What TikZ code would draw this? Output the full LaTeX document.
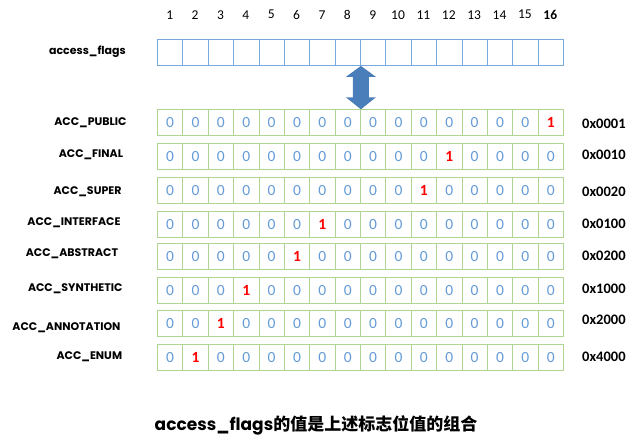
\documentclass[tikz,border=0pt]{standalone}
\usepackage{fontspec}
\setmainfont{Carlito}
\newfontfamily\comic{Poppins}
\newfontfamily\cjk{Noto Sans CJK SC}
\usetikzlibrary{calc}
\definecolor{bluebox}{RGB}{120,168,220}
\definecolor{greenbox}{RGB}{176,212,146}
\definecolor{zeroblue}{RGB}{100,155,215}
\definecolor{arrowblue}{RGB}{74,126,187}
\begin{document}
\begin{tikzpicture}[x=1pt,y=-1pt,
  cellb/.style={draw=bluebox,line width=0.9pt,minimum width=25.375pt,minimum height=26pt,inner sep=0pt,anchor=north west},
  cellg/.style={draw=greenbox,line width=0.9pt,minimum width=25.375pt,minimum height=26pt,inner sep=0pt,anchor=north west},
  zero/.style={text=zeroblue,font=\fontsize{15.5}{16}\selectfont},
  one/.style={text=red,font=\fontsize{15.5}{16}\selectfont\bfseries},
  lab/.style={font=\comic\bfseries\fontsize{11}{12}\selectfont,anchor=east,inner sep=0pt},
  hex/.style={font=\bfseries\fontsize{14.5}{16}\selectfont,anchor=west,inner sep=0pt},
  num/.style={font=\fontsize{13.5}{14}\selectfont,inner sep=0pt}]
\useasboundingbox (0,0) rectangle (642,446);
% column numbers
\foreach \j in {1,...,15} \node[num] (n\j) at ({157+25.375*(\j-0.5)},14.7) {\j};
\node[num,font=\fontsize{13.5}{14}\selectfont\bfseries] (n16) at ({157+25.375*15.5},14.7) {16};
% access_flags row
\foreach \j in {1,...,16} \node[cellb] (t\j) at ({157+25.375*(\j-1)},39) {};
\node[lab] (laf) at (126,52) {access\_flags};
% flag rows
\foreach \r/\top/\pos in {1/109.3/16,2/143.3/12,3/176.7/11,4/210.7/7,5/243.3/6,6/276.7/4,7/310/3,8/344/2}{
  \foreach \j in {1,...,16}{
    \ifnum\j=\pos
      \node[cellg,one] (r\r-\j) at ({157+25.375*(\j-1)},\top) {1};
    \else
      \node[cellg,zero] (r\r-\j) at ({157+25.375*(\j-1)},\top) {0};
    \fi
  }
}
% labels
\node[lab] (l1) at (126.7,123) {ACC\_PUBLIC};
\node[lab] (l2) at (123.3,155) {ACC\_FINAL};
\node[lab] (l3) at (121.7,191.7) {ACC\_SUPER};
\node[lab] (l4) at (120.7,222.7) {ACC\_INTERFACE};
\node[lab] (l5) at (118.3,254) {ACC\_ABSTRACT};
\node[lab] (l6) at (122.7,289) {ACC\_SYNTHETIC};
\node[lab] (l7) at (120.7,328) {ACC\_ANNOTATION};
\node[lab] (l8) at (122.3,356.7) {ACC\_ENUM};
% hex values
\node[hex] (h1) at (582,124) {0x0001};
\node[hex] (h2) at (582,154.3) {0x0010};
\node[hex] (h3) at (582,191.7) {0x0020};
\node[hex] (h4) at (582,223.3) {0x0100};
\node[hex] (h5) at (582,256) {0x0200};
\node[hex] (h6) at (582,288.3) {0x1000};
\node[hex] (h7) at (582,320) {0x2000};
\node[hex] (h8) at (582,356.7) {0x4000};
% double arrow
\coordinate (atop) at (t8.south east);
\coordinate (abot) at (r1-8.north east);
\fill[arrowblue] (atop) -- ($(atop)+(15,11)$) -- ($(atop)+(8,11)$) -- ($(abot)+(8,-12)$) -- ($(abot)+(15,-12)$) -- (abot)
  -- ($(abot)+(-15,-12)$) -- ($(abot)+(-8,-12)$) -- ($(atop)+(-8,11)$) -- ($(atop)+(-15,11)$) -- cycle;
% caption
\node (cap) at (316,425) {\comic\bfseries\fontsize{17}{20}\selectfont access\_flags\cjk 的值是上述标志位值的组合};
\end{tikzpicture}
\end{document}
